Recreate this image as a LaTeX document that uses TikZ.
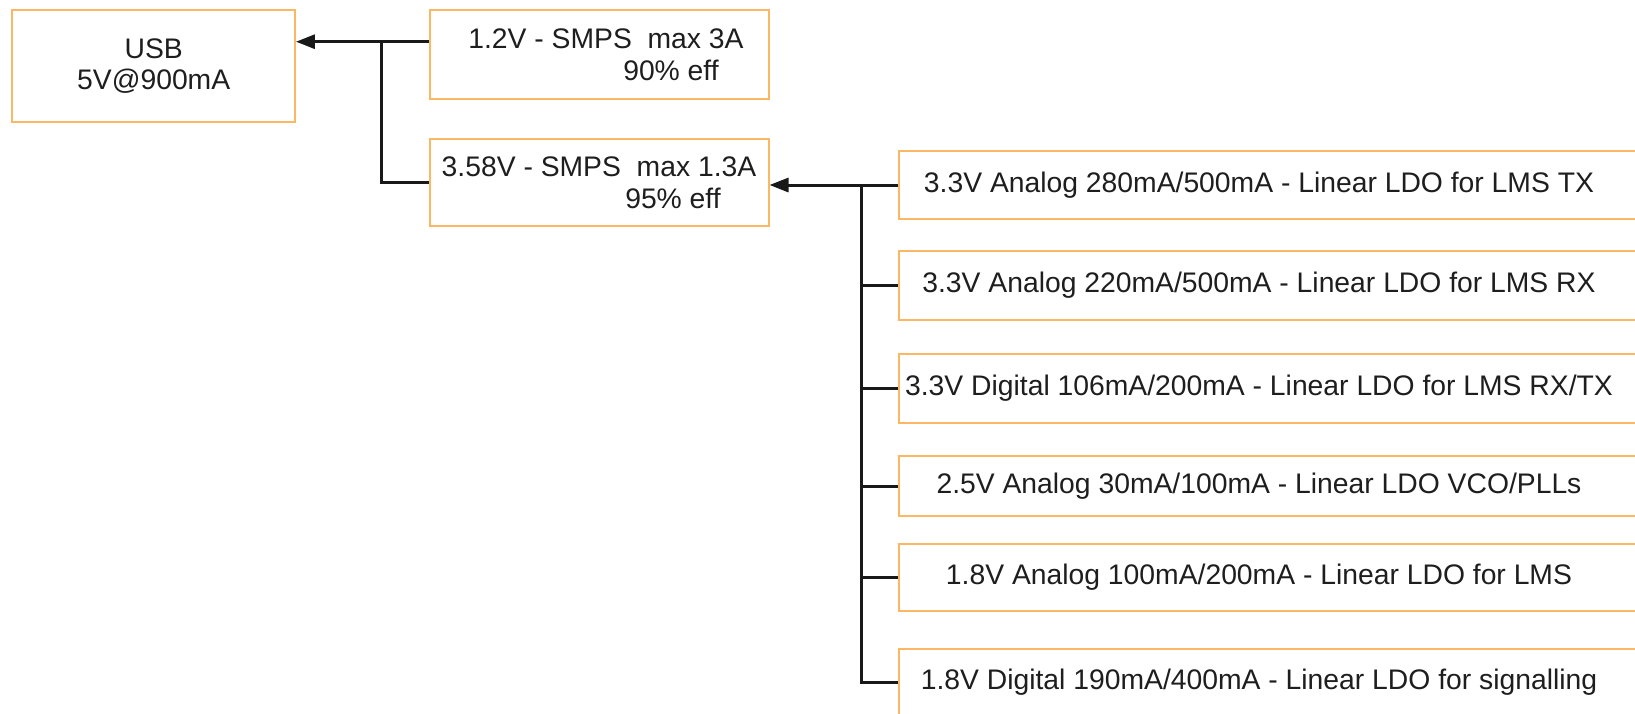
\documentclass[tikz,border=0pt]{standalone}
\usepackage{fontspec}
\setmainfont{Liberation Sans}
\usetikzlibrary{arrows.meta}
\definecolor{boxor}{RGB}{251,183,100}
\definecolor{txt}{RGB}{30,30,30}
\begin{document}
\begin{tikzpicture}[x=1pt,y=-1pt,
  box/.style={draw=boxor, line width=2pt, inner sep=0pt, font=\fontsize{28.3}{31.5}\selectfont, text=txt, align=center},
  rbox/.style={box, minimum width=746pt},
  wire/.style={line width=3pt, draw=black!90},
  arr/.style={wire, -{Triangle[length=19pt,width=14pt]}}]
\useasboundingbox (0,0) rectangle (1635,713);
\clip (0,0) rectangle (1635,713);
\fill[white] (0,0) rectangle (1635,713);
\node[box, minimum width=282.5pt, minimum height=111.6pt] (usb) at (153.7,66.2) {USB\\5V@900mA};
\node[box, minimum width=339pt, minimum height=88.6pt] (s1) at (599,54.7) {\hspace*{14pt}1.2V - SMPS\ \ max 3A\\\hspace*{144pt}90\% eff};
\node[box, minimum width=339pt, minimum height=87.6pt] (s2) at (599,182.6) {3.58V - SMPS\ \ max 1.3A\\\hspace*{148pt}95\% eff};
\node[rbox, minimum height=68pt] (r1) at (1272,185) {\makebox[720pt]{3.3V Analog 280mA/500mA - Linear LDO for LMS TX}\hspace*{26pt}};
\node[rbox, minimum height=69pt] (r2) at (1272,285.5) {\makebox[720pt]{3.3V Analog 220mA/500mA - Linear LDO for LMS RX}\hspace*{26pt}};
\node[rbox, minimum height=69pt] (r3) at (1272,388) {\makebox[720pt]{3.3V Digital 106mA/200mA - Linear LDO for LMS RX/TX}\hspace*{26pt}};
\node[rbox, minimum height=60pt] (r4) at (1272,486) {\makebox[720pt]{2.5V Analog 30mA/100mA - Linear LDO VCO/PLLs}\hspace*{26pt}};
\node[rbox, minimum height=67pt] (r5) at (1272,577.5) {\makebox[720pt]{1.8V Analog 100mA/200mA - Linear LDO for LMS}\hspace*{26pt}};
\node[rbox, minimum height=68pt] (r6) at (1272,682.6) {\makebox[720pt]{1.8V Digital 190mA/400mA - Linear LDO for signalling}\hspace*{26pt}};
\coordinate (j1) at (381.5,41.7);
\coordinate (bus) at (861,0);
\draw[arr] (s1.west |- j1) -- (j1 -| usb.east);
\draw[wire] (j1) |- (s2.west);
\draw[arr] (r1.west) -- (r1.west -| s2.east);
\draw[wire] (r1.west -| bus) |- (r6.west);
\foreach \i in {2,3,4,5} {\draw[wire] (r\i.west -| bus) -- (r\i.west);}
\end{tikzpicture}
\end{document}
